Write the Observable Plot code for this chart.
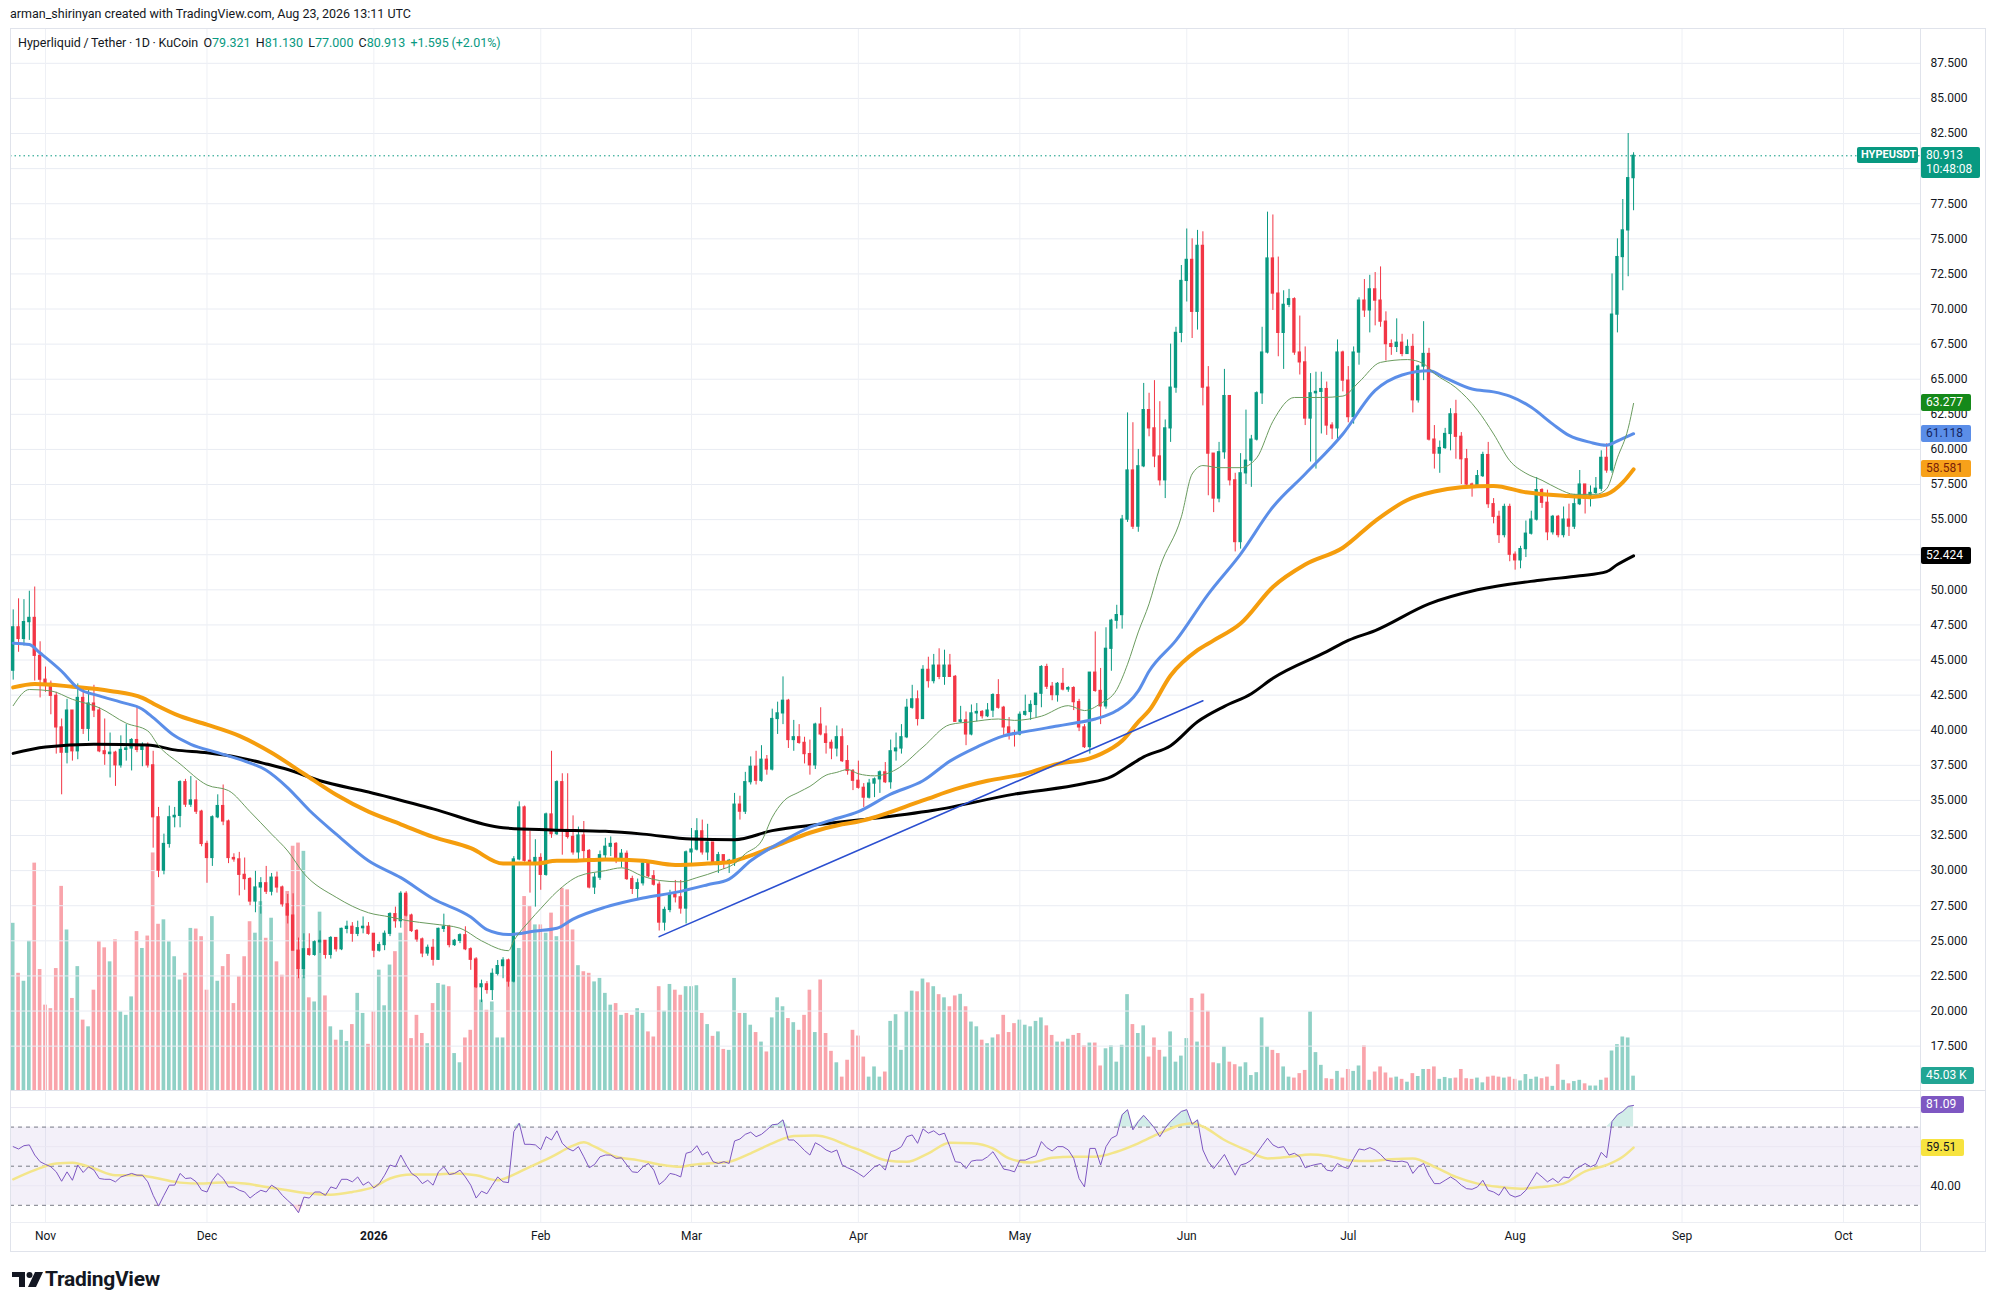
<!DOCTYPE html>
<html><head><meta charset="utf-8">
<script src="https://cdn.jsdelivr.net/npm/d3@7"></script>
<script src="https://cdn.jsdelivr.net/npm/@observablehq/plot@0.6"></script>
<style>
html,body{margin:0;padding:0;background:#fff;}
#root{position:relative;width:1996px;height:1311px;overflow:hidden;background:#fff;font-family:Roboto,'Liberation Sans',sans-serif;color:#131722;}
.lay{position:absolute;left:0;}
.tag{position:absolute;font-size:12px;line-height:17px;height:17px;padding-left:5px;box-sizing:border-box;border-radius:2px;white-space:nowrap;}
</style></head>
<body><div id="root"></div>
<script>
// ---------------- DATA ----------------
const startDate = "2025-10-26";           // first visible daily candle
const firstOpen = 44.24;
const closes = [
47.33,46.5,47.7,48.0,45.3,43.6,43.3,42.45,40.2,38.4,
41.4,38.5,42.3,40.1,41.9,41.4,38.5,38.3,38.4,37.5,
38.6,38.7,39.3,38.6,38.9,37.5,33.8,30.0,31.9,33.8,
33.9,36.3,34.7,35.0,34.2,31.9,30.9,33.8,34.6,33.5,
30.9,30.8,29.7,29.4,27.8,28.8,29.1,28.5,29.5,28.8,
27.6,26.8,24.3,23.0,24.4,24.0,24.9,25.0,24.0,25.2,
24.4,25.85,26.0,25.5,25.9,26.0,25.5,24.3,24.7,25.5,
26.9,26.4,28.35,26.8,25.7,25.1,24.1,24.5,23.65,25.85,
26.0,24.7,25.0,25.4,24.4,23.65,21.7,21.9,21.5,22.65,
23.2,23.6,22.1,30.8,34.5,30.7,30.5,30.9,29.7,34.0,
32.6,36.3,32.9,32.4,31.3,32.5,31.4,28.8,29.5,31.1,
31.7,31.9,30.7,31.2,29.4,28.7,29.1,30.5,29.6,29.0,
26.3,27.2,28.3,28.1,27.3,31.3,31.5,32.8,31.3,32.0,
30.5,31.1,30.5,30.7,34.7,34.2,36.3,37.4,36.4,37.9,
37.2,40.8,41.2,42.1,39.3,39.5,39.1,38.3,37.5,40.4,
39.7,39.1,38.7,39.5,37.8,37.1,36.4,35.9,35.2,36.2,
36.5,37.0,36.3,38.5,38.7,39.5,41.6,42.2,40.8,44.3,
43.5,44.6,43.8,44.6,43.8,40.6,40.7,39.7,41.2,41.3,
41.0,41.4,42.5,41.6,40.2,39.8,39.7,41.1,41.3,41.8,
42.6,44.5,43.1,42.5,43.3,42.9,43.0,42.0,40.2,38.8,
44.1,42.8,41.7,45.8,47.8,48.2,55.0,58.5,54.5,58.8,
62.8,61.5,59.5,57.8,61.5,64.4,68.3,72.0,73.5,69.8,
74.5,64.4,59.7,56.5,59.8,63.8,57.8,53.4,58.3,59.2,
60.7,64.0,66.9,73.6,71.1,68.3,70.3,70.7,66.9,66.2,
62.2,64.0,64.1,64.3,61.7,61.5,66.9,64.9,62.3,66.9,
70.6,69.9,71.4,70.6,69.1,67.5,67.3,67.6,66.8,67.3,
63.5,65.9,66.8,60.7,59.7,60.1,61.1,62.5,60.9,59.3,
57.5,57.4,58.1,59.6,56.1,55.2,53.9,55.9,52.5,52.1,
52.9,54.0,55.0,57.1,56.2,54.1,55.2,53.9,55.0,54.5,
56.1,57.5,56.5,56.9,57.2,59.4,58.5,69.6,73.7,75.6,
79.321,80.913];
const highs = [
48.57,49.36,49.3,49.9,50.2,46.3,44.5,43.5,42.7,40.8,
42.2,41.4,43.3,42.9,42.9,43.2,41.6,40.8,39.8,38.5,
39.6,40.4,39.4,41.7,39.1,39.1,38.5,34.5,32.6,34.6,
34.5,36.4,36.5,36.7,36.4,34.3,32.1,33.9,35.4,36.1,
33.6,31.2,31.3,30.9,29.5,29.95,29.5,30.3,29.8,29.9,
28.9,28.3,28.35,25.2,25.5,25.5,25.0,25.7,25.0,25.3,
25.2,25.9,26.4,26.3,26.4,26.7,26.3,25.3,24.9,25.7,
27.0,27.4,28.5,28.5,26.9,25.8,25.2,24.7,25.1,25.9,
26.9,26.1,25.1,25.5,26.0,24.5,23.8,22.2,22.1,23.0,
23.6,23.8,23.7,31.0,34.9,34.6,32.8,32.2,31.2,34.1,
38.5,36.4,36.9,36.9,33.9,33.1,33.5,31.5,29.8,31.4,
32.3,32.4,32.0,31.5,31.4,29.6,29.4,30.6,30.6,30.0,
29.2,27.4,28.6,29.3,29.3,31.4,33.0,33.7,33.6,33.3,
31.7,31.3,30.9,30.8,35.5,35.3,37.0,38.1,38.5,38.9,
38.2,41.5,42.0,43.8,42.2,40.7,40.4,39.5,39.3,40.5,
41.6,40.3,39.3,40.3,40.1,38.9,37.2,37.8,36.2,36.5,
36.6,37.1,37.7,39.3,39.8,40.4,42.2,43.2,42.8,44.6,
45.2,45.4,45.8,45.7,45.4,43.9,41.7,41.3,41.8,41.9,
41.4,41.9,42.6,43.6,41.7,40.9,40.0,41.3,42.5,42.1,
42.6,44.6,44.7,43.4,43.4,44.4,43.1,43.1,42.2,40.4,
44.1,47.0,44.4,47.3,47.9,48.9,55.3,62.6,61.9,60.0,
64.7,64.0,64.9,63.4,62.1,67.5,68.7,73.1,75.7,75.0,
75.6,75.5,65.9,59.7,60.5,65.7,63.8,58.3,59.7,62.8,
61.0,64.1,68.7,76.9,76.7,73.7,71.3,71.4,70.8,69.5,
67.3,65.4,65.5,65.5,64.8,61.9,67.8,67.0,65.9,67.3,
70.8,72.1,72.4,72.6,73.0,69.8,67.8,69.3,68.2,67.8,
68.2,66.0,69.1,67.2,61.7,60.6,61.5,62.9,63.5,61.2,
60.0,57.6,58.5,59.8,60.5,56.5,55.6,56.1,56.1,52.7,
53.1,54.9,55.6,58.0,57.2,57.1,55.3,55.3,55.9,56.1,
56.8,58.5,57.5,57.4,58.0,59.9,60.4,72.5,75.0,77.8,
82.5,81.13];
const lows = [
43.57,45.55,46.0,46.4,43.5,42.3,42.7,41.1,38.3,35.4,
37.6,37.8,37.9,39.7,39.2,40.9,38.4,37.5,36.6,36.0,
37.3,37.8,37.1,38.4,37.4,37.3,31.6,29.5,29.7,31.6,
33.05,33.05,34.5,34.5,34.0,31.7,29.1,30.3,33.7,33.2,
30.5,30.6,28.2,28.6,27.5,27.0,26.9,28.3,28.2,28.4,
27.4,26.2,24.3,22.3,22.3,23.9,23.9,24.1,23.7,23.7,
24.2,24.3,25.5,24.9,25.3,25.5,25.4,23.8,24.2,24.3,
25.3,25.9,25.9,26.7,25.6,24.9,23.8,23.9,23.2,23.6,
25.6,24.5,24.6,24.8,24.3,22.9,21.6,20.6,21.2,20.75,
22.5,22.3,21.7,22.0,30.7,30.6,28.4,27.4,28.6,29.6,
32.3,32.5,31.1,32.25,31.1,30.7,30.7,28.7,28.3,29.3,
30.8,31.0,30.5,30.2,29.3,28.3,27.9,28.9,29.5,28.9,
25.7,25.7,27.0,27.7,26.9,26.2,30.3,31.4,31.1,30.7,
30.4,29.8,30.1,29.8,30.3,33.6,34.0,36.1,36.1,36.3,
36.8,37.1,39.7,40.4,38.7,38.5,39.0,37.6,36.8,37.2,
39.6,38.3,37.9,38.1,37.7,36.8,35.7,35.8,34.5,35.1,
35.2,35.5,36.2,35.8,37.8,38.3,39.4,41.5,40.3,40.8,
43.0,43.3,43.6,43.2,43.8,40.6,40.5,38.9,39.6,40.6,
40.8,40.9,40.9,41.5,39.5,39.3,38.8,39.6,41.0,40.7,
40.9,41.6,42.9,42.1,42.0,42.8,42.7,41.4,39.9,38.7,
38.3,42.7,40.4,41.5,44.2,47.2,47.2,54.8,54.3,54.1,
58.7,60.9,58.7,57.4,56.5,60.5,64.0,67.6,70.5,67.9,
68.5,63.1,56.7,55.5,56.2,59.3,57.4,52.7,52.9,57.5,
57.3,60.6,63.2,66.8,69.9,66.6,65.7,70.1,66.7,65.3,
61.7,59.1,58.6,61.1,61.0,60.7,60.7,64.1,61.9,61.8,
66.0,69.4,68.3,68.8,68.7,66.3,66.7,66.9,66.6,66.8,
62.6,63.3,64.9,60.6,58.6,58.3,60.0,59.9,59.3,57.5,
57.3,56.6,57.3,58.0,55.8,54.7,53.3,53.7,52.0,51.4,
51.5,52.3,53.9,54.9,55.8,53.5,53.9,53.7,53.7,53.8,
54.3,56.0,55.4,55.9,56.8,57.0,58.3,58.3,68.3,71.3,
72.3,77.0];
const volumesK = [
525,368,343,469,714,380,268,257,383,641,
504,289,389,221,200,315,467,448,404,473,
247,236,294,499,446,485,746,522,536,467,
420,347,368,509,507,483,315,546,343,389,
427,273,357,420,530,494,593,478,541,404,
362,625,767,777,751,291,278,560,297,200,
158,189,154,207,305,242,145,247,378,266,
394,436,494,614,163,236,179,147,273,336,
331,326,116,87,165,189,415,284,252,278,
165,165,410,467,446,609,578,520,520,494,
557,483,635,630,504,392,373,368,341,352,
305,268,273,236,242,236,257,242,184,168,
326,249,333,315,299,326,326,329,242,207,
170,184,129,126,352,242,242,205,182,152,
121,228,291,263,226,213,189,236,315,182,
347,179,123,87,42,95,189,171,105,42,
74,42,58,217,238,126,247,312,310,350,
338,326,301,291,263,297,302,263,215,200,
158,147,165,175,236,182,210,221,205,200,
217,228,203,173,152,152,161,173,179,140,
149,149,77,131,140,89,142,301,207,179,
203,105,165,126,105,184,89,108,163,289,
152,303,249,87,84,137,89,81,74,87,
47,56,228,137,126,116,74,42,39,53,
63,247,119,79,37,35,60,39,66,60,
77,140,32,58,74,55,39,42,35,26,
53,44,66,66,74,35,41,37,39,66,
37,35,39,24,42,45,42,39,42,35,
30,50,35,42,37,42,13,81,32,21,
28,32,21,14,14,32,39,124,144,168,
165,45.03];
const rsi14 = [
60.0,58.8,60.5,60.9,55.7,52.3,50.9,49.7,47.1,42.3,
47.1,42.8,50.6,46.8,49.7,48.0,43.7,43.3,43.3,42.0,
44.5,45.4,46.3,45.4,45.4,42.0,35.1,29.6,35.1,40.3,
40.3,46.3,43.7,44.0,42.0,37.7,36.8,42.8,46.3,43.7,
39.4,39.4,37.7,36.8,33.7,35.9,37.7,36.8,40.3,38.5,
35.1,32.5,30.0,26.2,34.2,33.7,36.8,36.8,35.1,39.4,
38.5,43.3,43.3,42.0,44.5,40.3,42.0,38.9,41.1,45.4,
50.6,49.7,55.7,50.6,46.3,44.5,41.1,42.8,40.3,47.1,
49.7,45.7,46.3,48.0,44.5,40.3,33.7,37.2,35.9,40.3,
44.5,42.0,41.6,67.7,72.0,61.2,61.2,60.9,58.5,65.1,
63.4,68.1,61.7,59.1,57.8,60.0,54.8,49.2,50.9,54.8,
55.7,55.7,54.0,54.3,50.6,47.1,46.8,49.7,51.4,48.0,
40.6,42.8,46.3,45.7,44.5,56.6,57.4,60.5,55.7,57.4,
52.3,51.4,52.3,51.4,62.9,63.9,66.3,67.4,65.1,66.3,
68.6,71.2,71.5,73.7,63.4,63.4,60.9,58.0,55.7,62.0,
60.5,58.3,57.1,58.3,50.6,49.2,48.0,46.3,44.5,47.1,
49.7,50.9,48.0,57.4,58.3,60.0,65.1,66.0,61.7,69.1,
66.9,68.1,66.0,66.9,60.0,52.3,51.9,48.8,52.6,53.1,
53.1,54.8,57.4,53.1,48.5,48.0,47.1,53.1,53.1,54.3,
55.4,62.6,59.5,57.8,60.0,60.0,58.3,54.0,43.7,39.4,
59.1,59.1,50.6,60.0,64.3,65.7,76.3,78.9,68.6,72.9,
76.0,72.9,69.5,65.1,69.5,72.9,75.5,78.0,78.9,71.5,
73.7,58.3,52.3,48.8,52.3,56.0,50.6,45.4,50.6,51.4,
53.1,56.6,60.5,64.3,60.9,59.5,60.0,55.7,56.6,54.8,
49.2,50.2,50.9,51.4,48.0,47.5,51.4,49.7,48.8,54.0,
58.8,58.3,59.5,58.3,56.0,53.1,52.6,52.3,52.6,51.9,
46.3,49.7,51.4,45.4,41.1,41.1,42.8,44.5,42.8,40.3,
38.5,38.2,39.4,42.8,37.7,36.8,35.1,39.4,35.4,34.2,
35.1,37.7,42.3,46.8,44.5,42.0,43.7,41.6,44.5,44.0,
48.0,49.7,51.4,49.7,50.9,57.1,54.3,72.9,76.3,78.0,
80.6,81.09];
// moving averages as [day offset, value] samples
const maFast = [[0,41.75],[3,42.9],[7,42.8],[11,42.2],[16,41.6],[21,40.5],[25,39.95],[27,38.9],[31,37.6],[36,36.1],[40,35.7],[44,34.2],[48,32.6],[51,31.4],[54,29.8],[60,28.1],[66,27.0],[70,26.7],[73,26.45],[78,26.2],[83,25.9],[87,25.0],[92,24.3],[93,25.0],[96,26.45],[98,27.3],[101,28.5],[105,29.6],[110,30.0],[113,30.2],[117,29.6],[120,29.3],[124,29.2],[127,29.5],[131,30.0],[134,30.5],[136,31.2],[139,32.1],[141,33.8],[143,34.9],[146,35.6],[148,36.0],[151,36.8],[153,37.0],[155,37.2],[157,36.9],[160,36.75],[164,37.2],[169,38.8],[174,40.4],[178,40.6],[183,40.8],[186,40.7],[191,41.0],[196,41.75],[199,41.4],[202,41.9],[205,42.9],[207,44.7],[209,47.0],[211,49.0],[213,51.6],[217,55.2],[219,58.25],[221,58.85],[224,58.7],[228,58.7],[231,59.4],[234,62.0],[238,63.7],[243,63.7],[247,63.8],[250,64.8],[254,66.2],[259,66.4],[262,66.1],[264,65.4],[268,64.4],[272,62.8],[275,61.1],[278,59.2],[281,58.3],[284,57.8],[287,57.2],[290,56.8],[294,56.8],[296,57.2],[298,59.4],[300,61.5],[301,63.277]];
const maBlue = [[0,46.2],[3,46.1],[5,45.5],[9,44.2],[12,43.0],[16,42.45],[20,42.0],[24,41.5],[26,40.9],[30,39.6],[33,39.0],[38,38.4],[43,37.8],[47,37.15],[51,35.9],[55,34.3],[60,32.6],[66,30.7],[72,29.5],[78,28.0],[85,26.7],[88,25.8],[92,25.45],[97,25.7],[101,25.9],[104,26.55],[110,27.4],[117,28.05],[123,28.45],[129,29.0],[133,29.4],[137,30.7],[143,32.1],[148,33.1],[152,33.6],[157,34.2],[163,35.45],[169,36.4],[174,37.8],[179,38.8],[184,39.6],[188,39.9],[194,40.3],[197,40.5],[201,40.8],[205,41.4],[209,42.8],[211,44.2],[216,46.4],[222,49.7],[228,52.55],[234,55.9],[240,58.25],[247,61.1],[253,64.2],[258,65.3],[263,65.6],[266,65.1],[271,64.3],[275,64.1],[278,63.8],[282,63.0],[286,61.8],[289,61.0],[293,60.5],[296,60.3],[298,60.6],[301,61.118]];
const maOrange = [[0,43.05],[4,43.3],[11,43.1],[18,42.8],[24,42.3],[26,41.9],[31,41.0],[36,40.4],[42,39.6],[48,38.4],[54,36.9],[60,35.4],[66,34.2],[72,33.3],[78,32.4],[85,31.6],[91,30.5],[97,30.5],[101,30.7],[104,30.7],[110,30.8],[117,30.7],[123,30.4],[129,30.5],[133,30.6],[136,30.95],[141,31.65],[148,32.7],[154,33.3],[157,33.5],[169,35.0],[175,35.8],[181,36.4],[188,36.9],[194,37.6],[200,38.0],[202,38.3],[206,39.25],[209,40.6],[211,41.4],[215,43.9],[220,45.7],[223,46.4],[228,47.6],[234,50.2],[240,51.8],[247,53.0],[253,54.9],[259,56.4],[264,57.0],[269,57.3],[275,57.4],[281,56.95],[288,56.7],[293,56.6],[296,56.8],[299,57.65],[301,58.581]];
const maBlack = [[0,38.35],[6,38.8],[15,39.0],[25,38.95],[30,38.6],[36,38.4],[42,38.05],[47,37.6],[51,37.2],[57,36.4],[66,35.6],[78,34.4],[91,33.05],[100,32.9],[110,32.8],[117,32.6],[126,32.25],[134,32.2],[141,32.85],[150,33.3],[157,33.6],[171,34.3],[186,35.45],[199,36.2],[204,36.7],[207,37.4],[210,38.1],[215,38.9],[220,40.6],[225,41.7],[230,42.6],[234,43.7],[244,45.6],[248,46.4],[253,47.1],[263,49.0],[272,50.0],[284,50.7],[291,51.0],[296,51.3],[298,51.8],[301,52.424]];
const trendLine = [[120,25.3],[221,42.1]];
const rsiMa = [[0,43.3],[4,48.0],[8,51.4],[11,51.8],[15,48.8],[19,45.4],[23,45.4],[27,43.7],[31,41.6],[35,41.1],[39,41.6],[43,41.1],[47,39.4],[51,37.7],[55,36.0],[59,35.4],[63,36.8],[67,39.4],[70,43.7],[74,45.7],[78,45.7],[82,46.3],[86,45.4],[90,42.8],[92,44.5],[96,49.7],[100,54.8],[104,60.5],[106,62.2],[108,60.0],[112,54.8],[116,53.1],[120,50.9],[124,49.7],[126,50.6],[129,51.4],[133,52.3],[137,56.6],[141,61.7],[145,65.5],[149,65.7],[152,64.0],[154,61.7],[158,57.4],[162,53.1],[166,52.3],[170,56.6],[174,62.0],[178,61.7],[182,59.1],[185,54.0],[189,51.9],[193,54.3],[197,54.8],[201,54.8],[205,57.4],[209,61.7],[213,66.9],[217,71.2],[219,72.0],[221,70.3],[225,63.4],[229,58.3],[233,54.0],[237,54.8],[241,56.0],[244,55.4],[248,53.1],[252,52.6],[256,53.6],[260,54.0],[264,49.7],[268,44.5],[272,41.1],[276,39.4],[280,38.5],[284,39.4],[288,41.1],[292,47.4],[296,50.6],[299,54.8],[301,59.51]];
const priceTicks = d3.range(17.5, 87.6, 2.5);
const rsiLevels = [70, 50, 30];
const rsiGrid = [80, 60, 40];
const rsiAxisTicks = [40];
const monthStarts = ["2025-11-01","2025-12-01","2026-01-01","2026-02-01","2026-03-01","2026-04-01","2026-05-01","2026-06-01","2026-07-01","2026-08-01","2026-09-01","2026-10-01"];
const monthLabels = ["Nov","Dec","2026","Feb","Mar","Apr","May","Jun","Jul","Aug","Sep","Oct"];
const lastPrice = 80.913, lastVolume = 45.03, lastRsi = 81.09, lastRsiMa = 59.51;
const maLast = {fast: 63.277, blue: 61.118, orange: 58.581, black: 52.424};

// ---------------- BUILD ----------------
const FONT = "Roboto, 'Liberation Sans', sans-serif";
const UP = "#089981", DOWN = "#f23645";
const DAY = 864e5;
const t0 = Date.parse(startDate + "T00:00:00Z");
const day = i => new Date(t0 + i * DAY);
const xDomain = [day(-0.5), day(354.3)];
const W = 1996, ML = 10, MR = 76;
const candles = closes.map((c, i) => {
  const o = i === 0 ? firstOpen : closes[i - 1];
  return {date: day(i), o, h: highs[i], l: lows[i], c, v: volumesK[i], r: rsi14[i], up: c >= o,
          bx1: day(i - 0.31), bx2: day(i + 0.31), vx1: day(i - 0.34), vx2: day(i + 0.34)};
});
const pts = arr => arr.map(([d, v]) => ({date: day(d), v}));
const months = monthStarts.map(s => new Date(s + "T00:00:00Z"));
const monthLabelOf = new Map(months.map((d, i) => [+d, monthLabels[i]]));
// axis labels that sit under a value tag are hidden, as on the original
const tagValues = Object.values(maLast);
const labelTicks = priceTicks.filter(t => !tagValues.some(v => Math.abs(v - t) < 0.6) && !(t > lastPrice - 2.2 && t < lastPrice + 0.6));

const root = document.getElementById("root");
function add(style, html) { const el = document.createElement("div"); el.style.cssText = "position:absolute;" + style; el.innerHTML = html || ""; root.appendChild(el); return el; }

const baseStyle = {background: "transparent", fontFamily: FONT, fontSize: "12px", color: "#131722", overflow: "visible"};

// volume layer (own scale, behind price)
const volPlot = Plot.plot({
  width: W, height: 1062, marginLeft: ML, marginRight: MR, marginTop: 0, marginBottom: 0,
  style: baseStyle,
  x: {type: "utc", domain: xDomain, axis: null},
  y: {domain: [0, 3335], axis: null},
  marks: [
    Plot.rect(candles, {x1: "vx1", x2: "vx2", y1: 0, y2: "v", fill: d => d.up ? UP : DOWN, fillOpacity: 0.45})
  ]
});
// price layer
const pricePlot = Plot.plot({
  width: W, height: 1062, marginLeft: ML, marginRight: MR, marginTop: 0, marginBottom: 0,
  style: baseStyle,
  x: {type: "utc", domain: xDomain, axis: null},
  y: {domain: [14.34, 89.98]},
  marks: [
    Plot.ruleY(priceTicks, {stroke: "#e9ecf3", strokeWidth: 1}),
    Plot.ruleX(months, {stroke: "#eef0f5", strokeWidth: 1}),
    Plot.ruleY([lastPrice], {stroke: UP, strokeDasharray: "1.5,3", strokeWidth: 1}),
    Plot.ruleX(candles, {x: "date", y1: "l", y2: "h", stroke: d => d.up ? UP : DOWN, strokeWidth: 1}),
    Plot.rect(candles, {x1: "bx1", x2: "bx2", y1: "o", y2: "c", fill: d => d.up ? UP : DOWN, insetTop: -0.6, insetBottom: -0.6}),
    Plot.line(pts(maBlack), {x: "date", y: "v", stroke: "#000000", strokeWidth: 3, curve: "monotone-x"}),
    Plot.line(pts(maOrange), {x: "date", y: "v", stroke: "#f59d0d", strokeWidth: 4, curve: "monotone-x"}),
    Plot.line(pts(maBlue), {x: "date", y: "v", stroke: "#5b8ee8", strokeWidth: 3, curve: "monotone-x"}),
    Plot.line(pts(maFast), {x: "date", y: "v", stroke: "#6b9c5f", strokeWidth: 1, curve: "monotone-x"}),
    Plot.line(pts(trendLine), {x: "date", y: "v", stroke: "#2b4fd0", strokeWidth: 1.6}),
    Plot.axisY(labelTicks, {anchor: "right", tickSize: 0, tickPadding: 10, tickFormat: d3.format(".3f"), fill: "#131722"})
  ]
});
// RSI + time axis
const rsiRows = candles.map(d => ({date: d.date, r: d.r}));
const rsiPlot = Plot.plot({
  width: W, height: 160, marginLeft: ML, marginRight: MR, marginTop: 0, marginBottom: 30,
  style: baseStyle,
  x: {type: "utc", domain: xDomain},
  y: {domain: [21.2, 87.7]},
  marks: [
    Plot.ruleX(months, {stroke: "#eef0f5", strokeWidth: 1}),
    Plot.rect([0], {y1: 30, y2: 70, fill: "#7e57c2", fillOpacity: 0.09}),
    Plot.ruleY(rsiGrid, {stroke: "#ebe7f3", strokeWidth: 1}),
    Plot.ruleY(rsiLevels, {stroke: "#787b86", strokeDasharray: "4,4", strokeWidth: 1}),
    Plot.areaY(rsiRows, {x: "date", y1: 70, y2: d => Math.max(70, d.r), fill: UP, fillOpacity: 0.18}),
    Plot.areaY(rsiRows, {x: "date", y1: 30, y2: d => Math.min(30, d.r), fill: DOWN, fillOpacity: 0.18}),
    Plot.line(pts(rsiMa), {x: "date", y: "v", stroke: "#f3e58a", strokeWidth: 2.5, curve: "monotone-x"}),
    Plot.line(rsiRows, {x: "date", y: "r", stroke: "#7e57c2", strokeWidth: 1}),
    Plot.axisY(rsiAxisTicks, {anchor: "right", tickSize: 0, tickPadding: 10, tickFormat: d3.format(".2f"), fill: "#131722"}),
    Plot.axisX(months, {tickSize: 0, tickPadding: 9, tickFormat: d => monthLabelOf.get(+d), fill: "#131722"})
  ]
});

function place(svg, top, z) { const w = document.createElement("div"); w.className = "lay"; w.style.top = top + "px"; w.style.zIndex = z; w.appendChild(svg); root.appendChild(w); }
place(volPlot, 28, 1);
place(pricePlot, 28, 2);
place(rsiPlot, 1092, 2);
rsiPlot.querySelectorAll("text").forEach(t => { if (t.textContent === "2026") t.style.fontWeight = "700"; });

// frame lines
add("left:10px;top:28px;width:1976px;height:1224px;border:1px solid #e0e3eb;box-sizing:border-box;z-index:3;");
add("left:1920px;top:28px;width:1px;height:1224px;background:#e0e3eb;z-index:3;");
add("left:10px;top:1090px;width:1976px;height:1px;background:#dfe2ea;z-index:3;");
add("left:10px;top:1222px;width:1976px;height:1px;background:#eceef3;z-index:3;");

// header texts
add("left:10px;top:6px;font-size:12.5px;z-index:5;", "arman_shirinyan created with TradingView.com, Aug 23, 2026 13:11 UTC");
const g = s => `<span style="color:${UP}">${s}</span>`;
add("left:18px;top:35px;font-size:12.5px;white-space:nowrap;z-index:5;word-spacing:-0.5px;",
  `Hyperliquid / Tether · 1D · KuCoin&nbsp;&nbsp;O${g("79.321")}&nbsp;&nbsp;H${g("81.130")}&nbsp;&nbsp;L${g("77.000")}&nbsp;&nbsp;C${g("80.913")}&nbsp;&nbsp;${g("+1.595 (+2.01%)")}`);

// value tags positioned through the plots' own scales
const ys = pricePlot.scale("y"), vs = volPlot.scale("y"), rs = rsiPlot.scale("y");
function tag(yc, bg, fg, text, left, width, h, extra) {
  h = h || 17;
  add(`left:${left}px;top:${(yc - h / 2).toFixed(1)}px;width:${width}px;height:${h}px;background:${bg};color:${fg};z-index:6;${extra || ""}`,
      text).className = "tag";
}
const yP = v => 28 + ys.apply(v);
tag(yP(lastPrice) + 7, UP, "#fff", "80.913<br>10:48:08", 1921, 59, 31, "line-height:14px;padding-top:1px;");
tag(yP(lastPrice), UP, "#fff", "HYPEUSDT", 1857, 61, 16, "font-size:11px;font-weight:700;line-height:16px;padding-left:4px;");
tag(yP(maLast.fast), "#15891a", "#fff", maLast.fast.toFixed(3), 1921, 50);
tag(yP(maLast.blue), "#5b8ee8", "#14245e", maLast.blue.toFixed(3), 1921, 50);
tag(yP(maLast.orange), "#f7a11a", "#7a2208", maLast.orange.toFixed(3), 1921, 50);
tag(yP(maLast.black), "#000", "#fff", maLast.black.toFixed(3), 1921, 50);
tag(28 + vs.apply(lastVolume), "#22a594", "#fff", "45.03 K", 1921, 53);
tag(1092 + rs.apply(lastRsi), "#7e57c2", "#fff", lastRsi.toFixed(2), 1921, 43);
tag(1092 + rs.apply(lastRsiMa), "#f7e33f", "#131722", lastRsiMa.toFixed(2), 1921, 43);

// TradingView logo
add("left:12px;top:1271px;z-index:5;",
  `<svg width="32" height="18" viewBox="0 0 32 18"><path d="M0 1h13v15H7V6H0z" fill="#131722"/><circle cx="17.5" cy="4" r="3" fill="#131722"/><path d="M23 1h8l-7 15h-8z" fill="#131722"/></svg>`);
add("left:45px;top:1267px;font-size:21px;font-weight:700;letter-spacing:-0.3px;z-index:5;", "TradingView");
</script>
</body></html>
